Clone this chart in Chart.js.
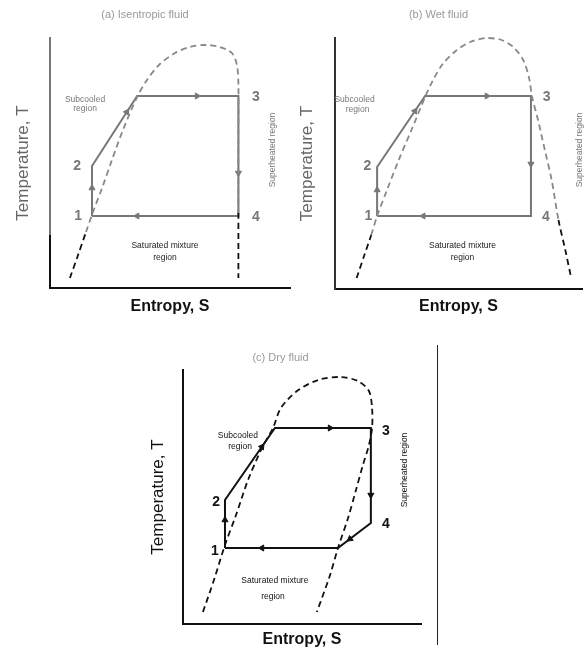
<!DOCTYPE html>
<html>
<head>
<meta charset="utf-8">
<script src="https://cdn.jsdelivr.net/npm/chart.js@4"></script>
<style>
body { margin: 0; background: #fff; }
#wrap { position: relative; width: 587px; height: 650px; overflow: hidden; }
canvas { position: absolute; }
#edge { position: absolute; left: 437px; top: 345px; height: 300px; border-left: 1.5px solid #222; }
</style>
</head>
<body>
<div id="wrap">
  <canvas id="isen" style="left:0;top:0" width="300" height="320"></canvas>
  <canvas id="wet" style="left:290px;top:0" width="297" height="320"></canvas>
  <canvas id="dry" style="left:140px;top:340px" width="290" height="310"></canvas>
  <div id="edge"></div>
</div>
<script>
// (a) isentropic fluid
const isenDomeS = [0.83, 1.17, 1.5, 1.79, 2.17, 2.58, 3.04, 3.63, 4.04, 4.58, 5.21, 5.83, 6.46, 7.08, 7.58, 7.79, 7.85, 7.85, 7.85, 7.85];
const isenDomeT = [0.4, 1.32, 2.24, 3.04, 4.0, 5.12, 6.32, 7.64, 8.32, 8.96, 9.4, 9.64, 9.72, 9.64, 9.4, 8.92, 8.12, 6.0, 3.0, 0.4];
const isenCycleS = [1.75, 1.75, 3.63, 7.85, 7.85, 1.75];
const isenCycleT = [2.88, 4.88, 7.68, 7.68, 2.88, 2.88];
const isenArrowS = [6.13, 1.75, 3.2, 7.85, 3.63];
const isenArrowT = [7.68, 4.0, 7.04, 4.6, 2.88];
const isenArrowDir = [90, 0, 33, 180, 270];

// (b) wet fluid
const wetDomeS = [0.92, 1.25, 1.54, 1.79, 2.21, 2.71, 3.25, 3.83, 4.17, 4.58, 5.13, 5.75, 6.46, 7.08, 7.58, 8.0, 8.25, 8.38, 8.63, 8.92, 9.21, 9.5, 9.79, 10.04];
const wetDomeT = [0.44, 1.36, 2.16, 2.92, 3.96, 5.16, 6.36, 7.68, 8.36, 9.0, 9.52, 9.88, 10.04, 9.96, 9.68, 9.16, 8.44, 7.68, 6.76, 5.56, 4.36, 2.76, 1.56, 0.44];
const wetCycleS = [1.79, 1.79, 3.83, 8.33, 8.33, 1.79];
const wetCycleT = [2.92, 4.88, 7.72, 7.72, 2.92, 2.92];
const wetArrowS = [6.46, 1.79, 3.4, 8.33, 3.75];
const wetArrowT = [7.72, 3.96, 7.12, 5.0, 2.92];
const wetArrowDir = [90, 0, 35, 180, 270];

// (c) dry fluid
const dryDomeS = [0.83, 1.29, 1.75, 2.21, 2.71, 3.29, 3.75, 4.08, 4.75, 5.63, 6.54, 7.29, 7.75, 7.88, 7.88, 7.75, 7.5, 7.21, 6.88, 6.46, 6.13, 5.58];
const dryDomeT = [0.48, 1.76, 3.16, 4.36, 5.76, 7.04, 7.84, 8.64, 9.32, 9.76, 9.88, 9.72, 9.32, 8.64, 7.84, 7.16, 6.36, 5.36, 4.24, 3.04, 1.96, 0.48];
const dryCycleS = [1.75, 1.75, 3.83, 7.83, 7.83, 6.46, 1.75];
const dryCycleT = [3.04, 4.96, 7.84, 7.84, 4.04, 3.04, 3.04];
const dryArrowS = [6.13, 3.29, 1.75, 7.83, 6.96, 3.29];
const dryArrowT = [7.84, 7.09, 4.16, 5.16, 3.4, 3.04];
const dryArrowDir = [90, 35, 0, 180, 233, 270];

const stateNames = ['1', '2', '3', '4'];
const FONT = '"Liberation Sans", Arial, sans-serif';

function zip(s, t) {
    return s.map((v, i) => ({x: v, y: t[i]}));
}

// text written at data positions
const notesPlugin = {
    id: 'notes',
    afterDatasetsDraw(chart, args, opts) {
        const ctx = chart.ctx;
        const x = chart.scales.x, y = chart.scales.y;
        (opts.items || []).forEach(n => {
            ctx.save();
            ctx.translate(x.getPixelForValue(n.s), y.getPixelForValue(n.t));
            if (n.rot) ctx.rotate(n.rot * Math.PI / 180);
            ctx.font = (n.weight || 'normal') + ' ' + n.size + 'px ' + FONT;
            ctx.fillStyle = n.color;
            ctx.textAlign = 'center';
            ctx.textBaseline = 'middle';
            ctx.fillText(n.text, 0, 0);
            ctx.restore();
        });
    }
};

function regionNotes(sub, sat, sup, small, subColor, satColor) {
    return [
        {text: 'Subcooled', s: sub[0], t: sub[1], size: small, color: subColor},
        {text: 'region', s: sub[2], t: sub[3], size: small, color: subColor},
        {text: 'Saturated mixture', s: sat[0], t: sat[1], size: small, color: satColor},
        {text: 'region', s: sat[2], t: sat[3], size: small, color: satColor},
        {text: 'Superheated region', s: sup[0], t: sup[1], size: small, color: subColor, rot: -90}
    ];
}

function stateNotes(pos, color) {
    return stateNames.map((name, i) => ({text: name, s: pos[i][0], t: pos[i][1], size: 14, weight: 'bold', color: color}));
}

// y axis that turns black below a given temperature (scan shading)
function splitAxisInk(light, dark, below) {
    return c => {
        const chart = c.chart, area = chart.chartArea;
        if (!area) return dark;
        const cut = chart.scales.y.getPixelForValue(below);
        const g = chart.ctx.createLinearGradient(0, area.top, 0, area.bottom);
        const f = Math.min(1, Math.max(0, (cut - area.top) / (area.bottom - area.top)));
        g.addColorStop(0, light);
        g.addColorStop(f, light);
        g.addColorStop(f, dark);
        g.addColorStop(1, dark);
        return g;
    };
}

function drawPanel(id, p) {
    new Chart(document.getElementById(id), {
        type: 'scatter',
        data: {
            datasets: [
                {
                    data: zip(p.domeS, p.domeT),
                    showLine: true,
                    borderDash: [6, 4],
                    borderWidth: 1.8,
                    borderColor: p.domeInk,
                    segment: {
                        borderColor: c => (c.p0.parsed.y + c.p1.parsed.y) / 2 < p.darkBelow ? '#111' : p.domeInk
                    },
                    pointRadius: 0,
                    tension: 0.3,
                    clip: false
                },
                {
                    data: zip(p.cycleS, p.cycleT),
                    showLine: true,
                    borderColor: p.ink,
                    borderWidth: 2,
                    pointRadius: 0,
                    tension: 0,
                    clip: false
                },
                {
                    data: zip(p.arrowS, p.arrowT),
                    showLine: false,
                    pointStyle: 'triangle',
                    pointRadius: 3.5,
                    rotation: p.arrowDir,
                    backgroundColor: p.ink,
                    borderColor: p.ink,
                    borderWidth: 1,
                    clip: false
                }
            ]
        },
        options: {
            responsive: false,
            animation: false,
            events: [],
            layout: {padding: p.pad},
            plugins: {
                legend: {display: false},
                tooltip: {enabled: false},
                title: {
                    display: true,
                    text: p.title,
                    color: '#9a9a9a',
                    font: {family: FONT, size: 11, weight: 'normal'},
                    padding: p.titlePad
                },
                notes: {items: p.notes}
            },
            scales: {
                x: {
                    min: 0, max: p.sMax,
                    ticks: {display: false},
                    grid: {display: false, drawTicks: false},
                    border: {display: true, color: '#111', width: 2},
                    title: {
                        display: true, text: 'Entropy, S', color: '#111',
                        font: {family: FONT, size: 16, weight: 'bold'},
                        padding: p.xTitlePad
                    }
                },
                y: {
                    min: 0, max: p.tMax,
                    ticks: {display: false},
                    grid: {display: false, drawTicks: false},
                    border: {display: true, color: p.yAxisInk, width: 2},
                    title: {
                        display: true, text: 'Temperature, T', color: p.yTitleInk,
                        font: {family: FONT, size: 17},
                        padding: p.yTitlePad
                    }
                }
            }
        },
        plugins: [notesPlugin]
    });
}

drawPanel('isen', {
    title: '(a) Isentropic fluid',
    domeS: isenDomeS, domeT: isenDomeT,
    cycleS: isenCycleS, cycleT: isenCycleT,
    arrowS: isenArrowS, arrowT: isenArrowT, arrowDir: isenArrowDir,
    sMax: 10, tMax: 10,
    ink: '#777', domeInk: '#888', darkBelow: 2.2,
    yAxisInk: splitAxisInk('#777', '#111', 2.1), yTitleInk: '#666',
    pad: {left: 0, right: 10, top: 0, bottom: 0},
    titlePad: {top: 8.4, bottom: 16.4},
    xTitlePad: {top: 9.4, bottom: 3.4},
    yTitlePad: {top: 12.8, bottom: 16.8},
    notes: regionNotes([1.46, 7.52, 1.46, 7.16], [4.79, 1.68, 4.79, 1.2], [9.29, 5.52], 8.5, '#777', '#222')
        .concat(stateNotes([[1.17, 2.88], [1.13, 4.88], [8.58, 7.64], [8.58, 2.84]], '#777'))
});

drawPanel('wet', {
    title: '(b) Wet fluid',
    domeS: wetDomeS, domeT: wetDomeT,
    cycleS: wetCycleS, cycleT: wetCycleT,
    arrowS: wetArrowS, arrowT: wetArrowT, arrowDir: wetArrowDir,
    sMax: 10.5, tMax: 10.04,
    ink: '#777', domeInk: '#888', darkBelow: 2.2, yAxisInk: '#333', yTitleInk: '#666',
    pad: {left: 0, right: 0, top: 0, bottom: 0},
    titlePad: {top: 8.4, bottom: 16.4},
    xTitlePad: {top: 8.4, bottom: 3.4},
    yTitlePad: {top: 6.8, bottom: 17.8},
    notes: regionNotes([0.83, 7.56, 0.96, 7.16], [5.42, 1.72, 5.42, 1.24], [10.38, 5.56], 8.5, '#777', '#222')
        .concat(stateNotes([[1.42, 2.92], [1.38, 4.92], [9.0, 7.68], [8.96, 2.88]], '#777'))
});

drawPanel('dry', {
    title: '(c) Dry fluid',
    domeS: dryDomeS, domeT: dryDomeT,
    cycleS: dryCycleS, cycleT: dryCycleT,
    arrowS: dryArrowS, arrowT: dryArrowT, arrowDir: dryArrowDir,
    sMax: 9.92, tMax: 10.16,
    ink: '#111', domeInk: '#111', darkBelow: 99, yAxisInk: '#111', yTitleInk: '#111',
    pad: {left: 0, right: 9, top: 0, bottom: 0},
    titlePad: {top: 11.4, bottom: 5.4},
    xTitlePad: {top: 6.4, bottom: 0.4},
    yTitlePad: {top: 7.8, bottom: 14.8},
    notes: regionNotes([2.29, 7.52, 2.38, 7.08], [3.83, 1.72, 3.75, 1.08], [9.25, 6.16], 8.5, '#111', '#111')
        .concat(stateNotes([[1.33, 2.92], [1.38, 4.88], [8.46, 7.72], [8.46, 4.0]], '#111'))
});
</script>
</body>
</html>
